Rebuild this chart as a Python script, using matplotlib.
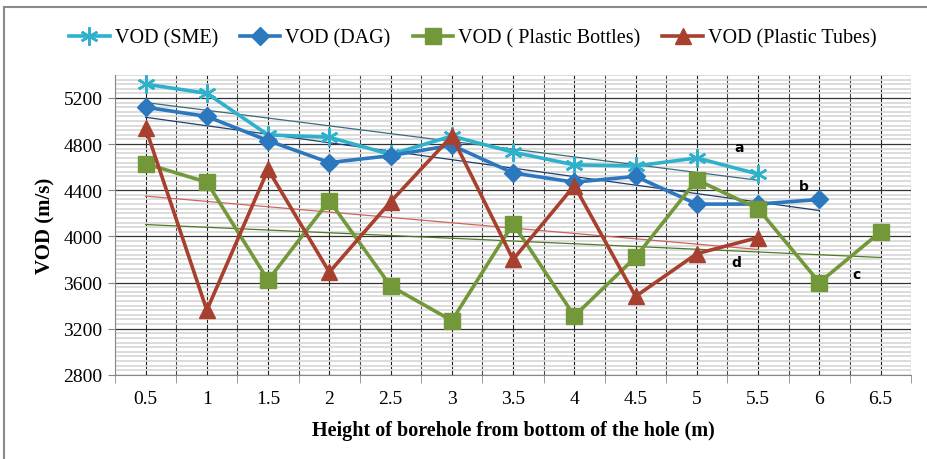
import numpy as np
import matplotlib
matplotlib.use("Agg")
import matplotlib.pyplot as plt
from matplotlib.ticker import MultipleLocator, FixedLocator
from matplotlib.patches import Rectangle

categories = ["0.5", "1", "1.5", "2", "2.5", "3", "3.5", "4", "4.5", "5", "5.5", "6", "6.5"]
vod_sme = [5320, 5240, 4880, 4860, 4710, 4870, 4730, 4620, 4610, 4680, 4540]
vod_dag = [5120, 5040, 4830, 4640, 4700, 4790, 4550, 4470, 4520, 4280, 4280, 4320]
vod_bottles = [4630, 4470, 3620, 4310, 3570, 3270, 4110, 3310, 3820, 4490, 4240, 3600, 4040]
vod_tubes = [4940, 3360, 4580, 3690, 4300, 4870, 3800, 4440, 3480, 3850, 3990]
series_names = ["VOD (SME)", "VOD (DAG)", "VOD ( Plastic Bottles)", "VOD (Plastic Tubes)"]
trend_labels = ["a", "b", "c", "d"]

serif = "Liberation Serif"
fig = plt.figure(figsize=(9.27, 4.60), dpi=100)
ax = fig.add_axes([0.124, 0.183, 0.859, 0.652])

# background grid
ax.set_ylim(2800, 5400)
ax.set_xlim(-0.5, len(categories) - 0.5)
ax.yaxis.set_major_locator(MultipleLocator(400))
ax.yaxis.set_minor_locator(MultipleLocator(40))
ax.grid(which="minor", axis="y", color="#d9d9d9", lw=1.3)
ax.grid(which="major", axis="y", color="#333333", lw=0.9)
xpos = np.arange(len(categories))
for i, xv in enumerate(np.arange(-0.5, len(categories), 0.5)):
    ax.axvline(xv, color="#1e1e1e" if i % 2 else "#4a4a4a", lw=0.8, zorder=0.5)
ax.set_axisbelow(True)

ax.set_xticks(xpos)
ax.set_xticklabels(categories, fontfamily=serif, fontsize=14)
ax.xaxis.set_minor_locator(FixedLocator(np.arange(-0.5, len(categories), 1.0)))
ax.tick_params(axis="x", which="major", length=0, pad=11)
ax.tick_params(axis="x", which="minor", length=6, color="#888888", direction="out")
ax.tick_params(axis="y", which="major", length=5, color="#888888", labelsize=14, pad=4)
ax.tick_params(axis="y", which="minor", length=0)
for lab in ax.get_yticklabels():
    lab.set_fontfamily(serif)

for s in ["top", "right"]:
    ax.spines[s].set_visible(False)
ax.spines["left"].set_color("#888888")
ax.spines["bottom"].set_color("#888888")

colors = ["#2fb1cc", "#2c78bf", "#73983a", "#a8402f"]
trend_colors = ["#3b6e78", "#1f3f6e", "#4f7a22", "#d0645a"]
markers = [(6, 2, 0), "D", "s", "^"]
msizes = [13, 9, 12, 12]
data = [vod_sme, vod_dag, vod_bottles, vod_tubes]

handles = []
for vals, c, m, ms, name in zip(data, colors, markers, msizes, series_names):
    xs = xpos[:len(vals)]
    mew = 1.8 if m == (6, 2, 0) else 1
    h, = ax.plot(xs, vals, color=c, lw=2.6, marker=m, ms=ms, mec=c, mfc=c, mew=mew,
                 label=name, zorder=3)
    handles.append(h)

# linear trend lines
for vals, tc in zip(data, trend_colors):
    xs = xpos[:len(vals)]
    k, b0 = np.polyfit(xs, vals, 1)
    ax.plot(xs[[0, -1]], k * xs[[0, -1]] + b0, color=tc, lw=0.9, zorder=2.5)

label_pos = [(9.69, 4776), (10.75, 4438), (11.6, 3676), (9.64, 3780)]
for t, (lx, ly) in zip(trend_labels, label_pos):
    ax.text(lx, ly, t, fontsize=10, fontweight="bold", fontfamily="DejaVu Sans",
            ha="center", va="center", zorder=4)

ax.set_ylabel("VOD (m/s)", fontfamily=serif, fontsize=15, fontweight="bold", labelpad=6)
ax.set_xlabel("Height of borehole from bottom of the hole (m)", fontfamily=serif,
              fontsize=14.5, fontweight="bold", labelpad=9)

fig.legend(handles=handles, loc="center", bbox_to_anchor=(0.51, 0.915), ncol=4,
           frameon=False, prop={"family": serif, "size": 14.5}, handlelength=2.0,
           columnspacing=1.1, handletextpad=0.25)

fig.patches.append(Rectangle((0.004, -0.01), 1.1, 0.993, transform=fig.transFigure,
                             fill=False, ec="#8a8a8a", lw=1.5))

fig.savefig("out.png", dpi=100)
